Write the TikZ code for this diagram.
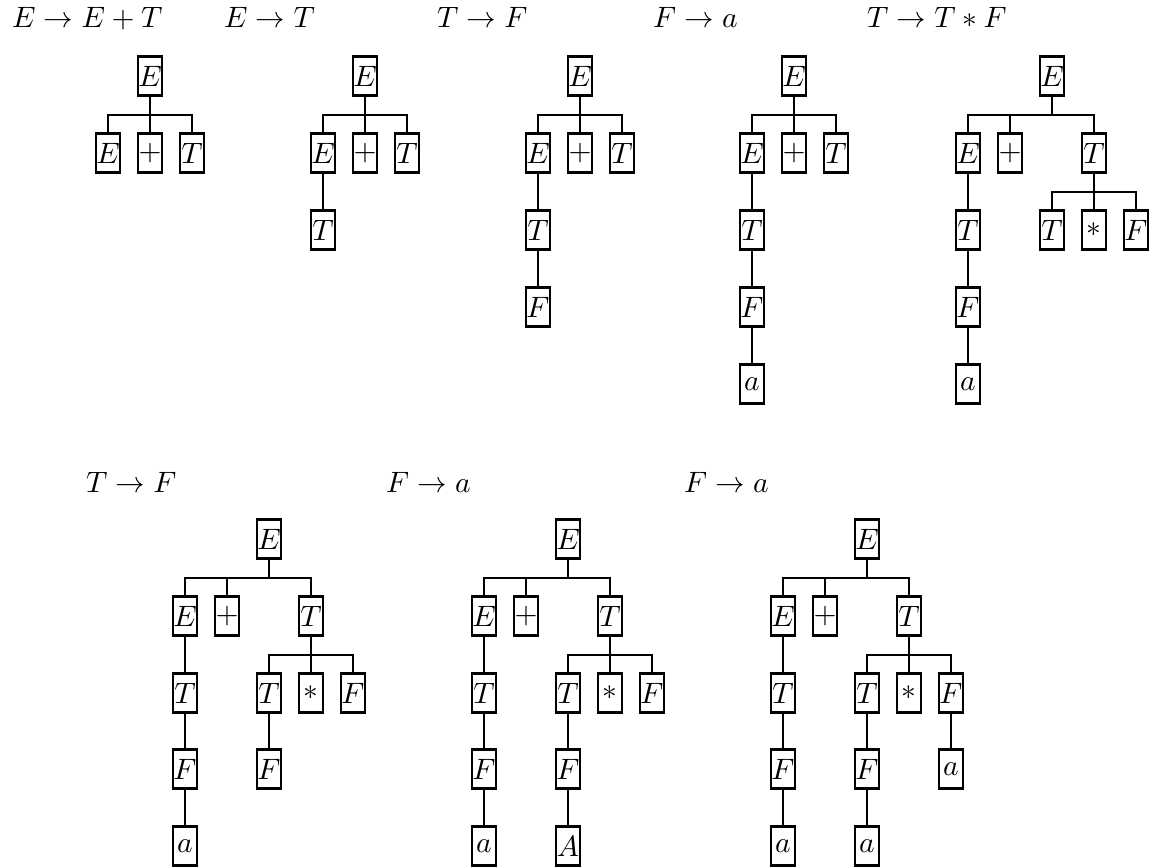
\documentclass[tikz,border=0pt]{standalone}
\usepackage{graphicx}
\newcommand{\mx}[1]{\scalebox{2.95}{$#1$}}
\tikzset{
  sym/.style={draw, line width=2.3pt, minimum width=24pt, minimum height=39pt, inner sep=0pt},
  link/.style={line width=2.3pt},
  rule/.style={anchor=base west, inner sep=0pt}
}
\newcommand{\lk}[2]{\draw[link] (#1.south) -- ++(0,18) -| (#2.north);}
\begin{document}
\begin{tikzpicture}[x=1pt, y=-1pt]
\useasboundingbox (0,0) rectangle (1155,867);
% titles
\node[rule] (h1) at (12,28) {\mx{E \to E + T}};
\node[rule] (h2) at (224,28) {\mx{E \to T}};
\node[rule] (h3) at (437,28) {\mx{T \to F}};
\node[rule] (h4) at (653,28) {\mx{F \to a}};
\node[rule] (h5) at (867,28) {\mx{T \to T * F}};
\node[rule] (h6) at (86,492) {\mx{T \to F}};
\node[rule] (h7) at (386,492) {\mx{F \to a}};
\node[rule] (h8) at (684,492) {\mx{F \to a}};
% tree 1
\node[sym] (a0) at (150,76) {\mx{E}};
\node[sym] (a1) at (108,153) {\mx{E}};
\node[sym] (a2) at (150,153) {\mx{+}};
\node[sym] (a3) at (192,153) {\mx{T}};
\lk{a0}{a1}\lk{a0}{a2}\lk{a0}{a3}
% tree 2
\node[sym] (b0) at (365,76) {\mx{E}};
\node[sym] (b1) at (323,153) {\mx{E}};
\node[sym] (b2) at (365,153) {\mx{+}};
\node[sym] (b3) at (407,153) {\mx{T}};
\node[sym] (b4) at (323,230) {\mx{T}};
\lk{b0}{b1}\lk{b0}{b2}\lk{b0}{b3}\lk{b1}{b4}
% tree 3
\node[sym] (c0) at (580,76) {\mx{E}};
\node[sym] (c1) at (538,153) {\mx{E}};
\node[sym] (c2) at (580,153) {\mx{+}};
\node[sym] (c3) at (622,153) {\mx{T}};
\node[sym] (c4) at (538,230) {\mx{T}};
\node[sym] (c5) at (538,307) {\mx{F}};
\lk{c0}{c1}\lk{c0}{c2}\lk{c0}{c3}\lk{c1}{c4}\lk{c4}{c5}
% tree 4
\node[sym] (d0) at (794,76) {\mx{E}};
\node[sym] (d1) at (752,153) {\mx{E}};
\node[sym] (d2) at (794,153) {\mx{+}};
\node[sym] (d3) at (836,153) {\mx{T}};
\node[sym] (d4) at (752,230) {\mx{T}};
\node[sym] (d5) at (752,307) {\mx{F}};
\node[sym] (d6) at (752,384) {\mx{a}};
\lk{d0}{d1}\lk{d0}{d2}\lk{d0}{d3}\lk{d1}{d4}\lk{d4}{d5}\lk{d5}{d6}
% tree 5
\node[sym] (e0) at (1052,76) {\mx{E}};
\node[sym] (e1) at (968,153) {\mx{E}};
\node[sym] (e2) at (1010,153) {\mx{+}};
\node[sym] (e3) at (1094,153) {\mx{T}};
\node[sym] (e4) at (968,230) {\mx{T}};
\node[sym] (e5) at (968,307) {\mx{F}};
\node[sym] (e6) at (968,384) {\mx{a}};
\node[sym] (e7) at (1052,230) {\mx{T}};
\node[sym] (e8) at (1094,230) {\mx{*}};
\node[sym] (e9) at (1136,230) {\mx{F}};
\lk{e0}{e1}\lk{e0}{e2}\lk{e0}{e3}\lk{e1}{e4}\lk{e4}{e5}\lk{e5}{e6}
\lk{e3}{e7}\lk{e3}{e8}\lk{e3}{e9}
% tree 6
\node[sym] (f0) at (269,539) {\mx{E}};
\node[sym] (f1) at (185,616) {\mx{E}};
\node[sym] (f2) at (227,616) {\mx{+}};
\node[sym] (f3) at (311,616) {\mx{T}};
\node[sym] (f4) at (185,693) {\mx{T}};
\node[sym] (f5) at (185,769) {\mx{F}};
\node[sym] (f6) at (185,846) {\mx{a}};
\node[sym] (f7) at (269,693) {\mx{T}};
\node[sym] (f8) at (311,693) {\mx{*}};
\node[sym] (f9) at (353,693) {\mx{F}};
\node[sym] (f10) at (269,769) {\mx{F}};
\lk{f0}{f1}\lk{f0}{f2}\lk{f0}{f3}\lk{f1}{f4}\lk{f4}{f5}\lk{f5}{f6}
\lk{f3}{f7}\lk{f3}{f8}\lk{f3}{f9}\lk{f7}{f10}
% tree 7
\node[sym] (g0) at (568,539) {\mx{E}};
\node[sym] (g1) at (484,616) {\mx{E}};
\node[sym] (g2) at (526,616) {\mx{+}};
\node[sym] (g3) at (610,616) {\mx{T}};
\node[sym] (g4) at (484,693) {\mx{T}};
\node[sym] (g5) at (484,769) {\mx{F}};
\node[sym] (g6) at (484,846) {\mx{a}};
\node[sym] (g7) at (568,693) {\mx{T}};
\node[sym] (g8) at (610,693) {\mx{*}};
\node[sym] (g9) at (652,693) {\mx{F}};
\node[sym] (g10) at (568,769) {\mx{F}};
\node[sym] (g11) at (568,846) {\mx{A}};
\lk{g0}{g1}\lk{g0}{g2}\lk{g0}{g3}\lk{g1}{g4}\lk{g4}{g5}\lk{g5}{g6}
\lk{g3}{g7}\lk{g3}{g8}\lk{g3}{g9}\lk{g7}{g10}\lk{g10}{g11}
% tree 8
\node[sym] (k0) at (867,539) {\mx{E}};
\node[sym] (k1) at (783,616) {\mx{E}};
\node[sym] (k2) at (825,616) {\mx{+}};
\node[sym] (k3) at (909,616) {\mx{T}};
\node[sym] (k4) at (783,693) {\mx{T}};
\node[sym] (k5) at (783,769) {\mx{F}};
\node[sym] (k6) at (783,846) {\mx{a}};
\node[sym] (k7) at (867,693) {\mx{T}};
\node[sym] (k8) at (909,693) {\mx{*}};
\node[sym] (k9) at (951,693) {\mx{F}};
\node[sym] (k10) at (867,769) {\mx{F}};
\node[sym] (k11) at (867,846) {\mx{a}};
\node[sym] (k12) at (951,769) {\mx{a}};
\lk{k0}{k1}\lk{k0}{k2}\lk{k0}{k3}\lk{k1}{k4}\lk{k4}{k5}\lk{k5}{k6}
\lk{k3}{k7}\lk{k3}{k8}\lk{k3}{k9}\lk{k7}{k10}\lk{k10}{k11}\lk{k9}{k12}
\end{tikzpicture}
\end{document}
